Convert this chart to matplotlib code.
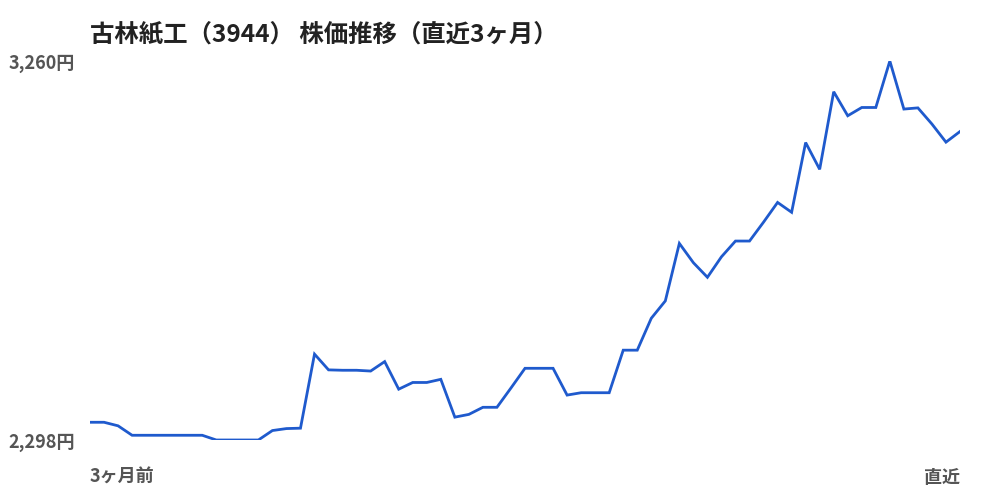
import matplotlib
matplotlib.use("Agg")
import matplotlib.pyplot as plt

# 古林紙工（3944）の終値（直近3ヶ月, 63営業日）
prices = [
    2343, 2343, 2334, 2310, 2310, 2310, 2310, 2310, 2310, 2298,
    2298, 2298, 2298, 2322, 2327, 2328, 2516, 2476, 2475, 2475,
    2473, 2497, 2427, 2444, 2444, 2452, 2356, 2363, 2381, 2381,
    2430, 2480, 2480, 2480, 2412, 2418, 2418, 2418, 2526, 2526,
    2607, 2651, 2797, 2748, 2711, 2763, 2803, 2803, 2851, 2901,
    2876, 3053, 2985, 3182, 3121, 3142, 3142, 3260, 3138, 3141,
    3100, 3054, 3081,
]
title = "古林紙工（3944） 株価推移（直近3ヶ月）"
x_labels = ["3ヶ月前", "直近"]

plt.rcParams['font.family'] = ['Noto Sans CJK JP', 'DejaVu Sans']

fig = plt.figure(figsize=(10, 5), dpi=100)
ax = fig.add_axes([0.09, 0.12, 0.87, 0.758])

x = list(range(len(prices)))
ax.plot(x, prices, color='#1f5acd', lw=2.0, solid_joinstyle='miter')

lo, hi = min(prices), max(prices)
ax.set_xlim(0, len(prices) - 1)
ax.set_ylim(lo, hi)
ax.axis('off')

# 軸ラベル（最大・最小）
span = hi - lo
for v in (hi, lo):
    ax.text(-0.017, v - span * 0.007, f"{v:,}円", transform=ax.get_yaxis_transform(),
            ha='right', va='center', fontsize=13, fontweight='bold', color='#555555')

ax.text(0, -0.098, x_labels[0], transform=ax.transAxes, ha='left', va='center',
        fontsize=13, fontweight='bold', color='#555555')
ax.text(1, -0.098, x_labels[1], transform=ax.transAxes, ha='right', va='center',
        fontsize=13, fontweight='bold', color='#555555')

fig.text(0.09, 0.932, title, ha='left', va='center', fontsize=17.6,
         fontweight='bold', color='#222222')

fig.savefig("out.png", dpi=100, facecolor='white')
